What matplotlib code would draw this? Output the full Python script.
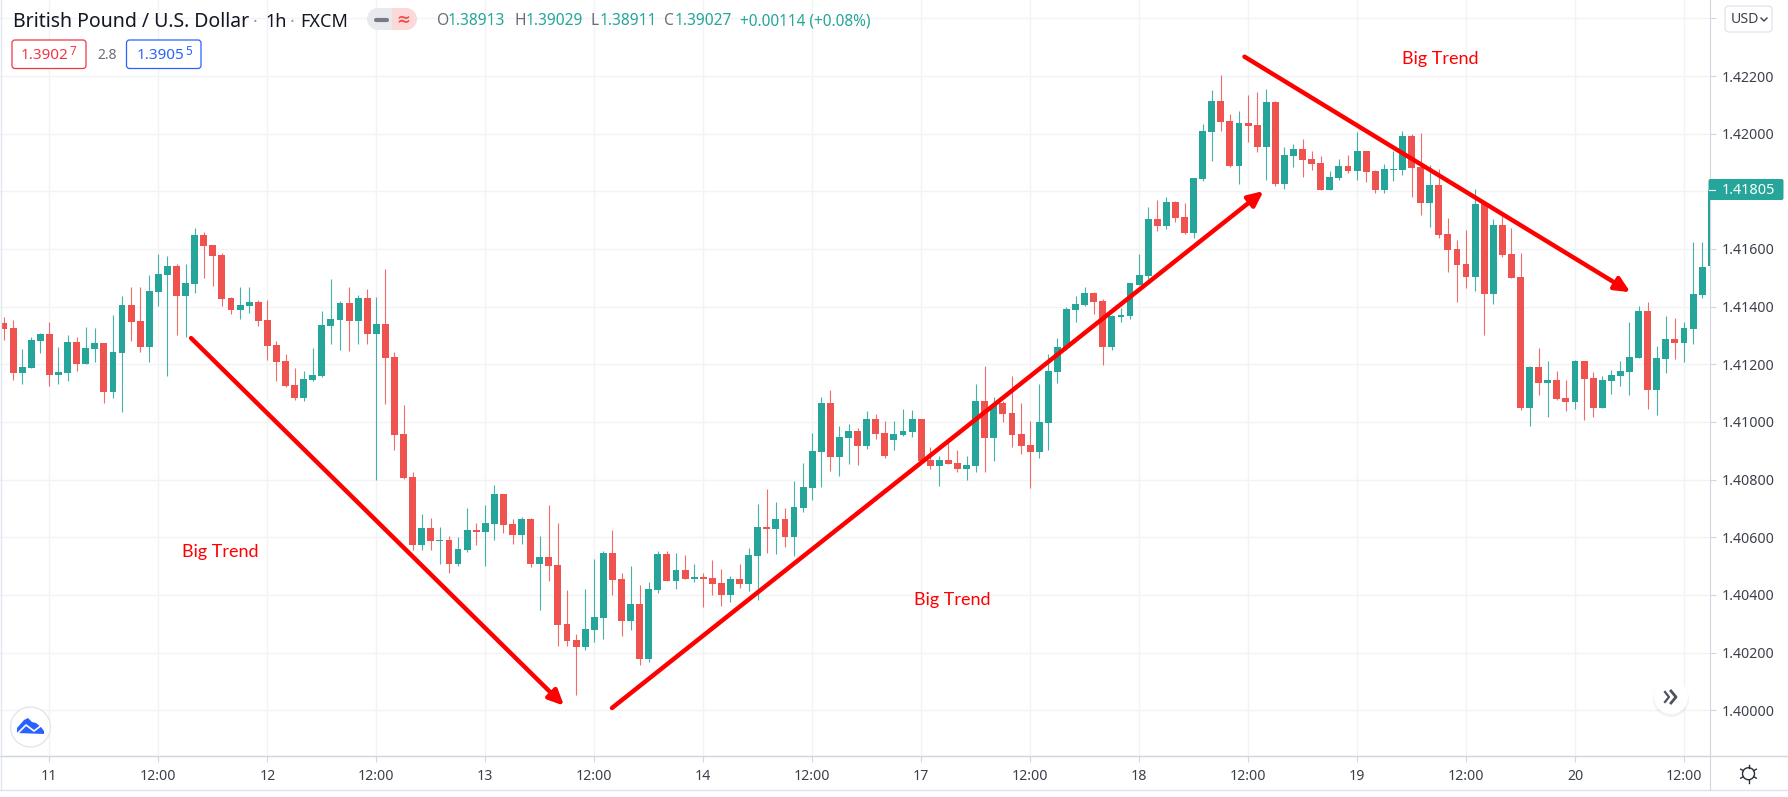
import numpy as np
import matplotlib
matplotlib.use("Agg")
import matplotlib.pyplot as plt
from matplotlib.patches import Circle, FancyArrowPatch, FancyBboxPatch, Polygon, Rectangle, Wedge

# hourly candles, prices in 1e-5 units
opens = [141343, 141326, 141171, 141187, 141281, 141305, 141163, 141171, 141277, 141202, 141254, 141274, 141105, 141240, 141406, 141350,
         141261, 141452, 141510, 141541, 141437, 141479, 141649, 141614, 141579, 141430, 141388, 141402, 141416, 141354, 141267, 141212,
         141128, 141083, 141146, 141160, 141333, 141354, 141413, 141350, 141430, 141305, 141340, 141225, 140958, 140809, 140573, 140632,
         140587, 140591, 140507, 140556, 140625, 140619, 140646, 140750, 140646, 140608, 140664, 140507, 140532, 140504, 140299, 140244,
         140220, 140279, 140320, 140546, 140456, 140310, 140369, 140178, 140417, 140542, 140449, 140487, 140456, 140462, 140459, 140442,
         140400, 140456, 140438, 140535, 140636, 140629, 140664, 140601, 140702, 140771, 140896, 141066, 140879, 140945, 140969, 140917,
         141010, 140962, 140938, 140955, 140965, 141010, 140868, 140847, 140868, 140858, 140837, 140847, 141073, 140945, 141066, 141031,
         140958, 140920, 140896, 140997, 141173, 141257, 141388, 141406, 141447, 141420, 141260, 141364, 141368, 141475, 141506, 141704,
         141680, 141763, 141711, 141656, 141843, 142006, 142113, 142044, 141888, 142037, 142030, 141954, 142110, 141825, 141923, 141947,
         141912, 141898, 141805, 141846, 141888, 141871, 141940, 141871, 141805, 141874, 141874, 141992, 141884, 141760, 141822, 141652,
         141600, 141548, 141503, 141756, 141444, 141683, 141583, 141503, 141049, 141191, 141135, 141146, 141083, 141069, 141212, 141153,
         141049, 141142, 141160, 141173, 141222, 141385, 141111, 141219, 141288, 141274, 141322, 141440, 141540]
highs = [141364, 141354, 141253, 141294, 141310, 141347, 141260, 141302, 141295, 141330, 141326, 141274, 141371, 141437, 141468, 141468,
         141509, 141583, 141576, 141548, 141548, 141673, 141659, 141614, 141586, 141435, 141468, 141468, 141423, 141423, 141281, 141236,
         141187, 141177, 141257, 141385, 141496, 141420, 141468, 141440, 141461, 141434, 141531, 141243, 141059, 140827, 140681, 140667,
         140636, 140605, 140601, 140702, 140650, 140712, 140781, 140750, 140664, 140671, 140667, 140605, 140712, 140650, 140417, 140265,
         140421, 140525, 140553, 140625, 140476, 140501, 140435, 140445, 140553, 140553, 140546, 140539, 140507, 140476, 140521, 140490,
         140466, 140507, 140563, 140716, 140768, 140723, 140702, 140795, 140858, 140962, 141087, 141111, 140986, 140993, 140979, 141038,
         141028, 141003, 141003, 141045, 141042, 141010, 140913, 140882, 140934, 140903, 140882, 141132, 141194, 141087, 141073, 141160,
         141066, 141003, 141132, 141236, 141291, 141398, 141437, 141468, 141451, 141427, 141371, 141395, 141482, 141583, 141746, 141770,
         141780, 141767, 141760, 141846, 142034, 142152, 142203, 142068, 142079, 142134, 142144, 142155, 142113, 141954, 141964, 141982,
         141940, 141923, 141871, 141912, 141926, 142006, 141940, 141874, 141895, 141940, 142009, 141999, 142002, 141891, 141878, 141708,
         141631, 141666, 141808, 141760, 141704, 141714, 141673, 141586, 141194, 141257, 141212, 141177, 141146, 141215, 141212, 141173,
         141160, 141180, 141212, 141347, 141402, 141416, 141264, 141368, 141361, 141347, 141624, 141624, 141805]
lows = [141284, 141146, 141133, 141186, 141238, 141126, 141133, 141143, 141177, 141201, 141208, 141067, 141084, 141036, 141281, 141243,
        141208, 141402, 141160, 141302, 141295, 141447, 141499, 141472, 141402, 141375, 141357, 141378, 141333, 141215, 141142, 141123,
        141076, 141074, 141142, 141156, 141271, 141250, 141246, 141271, 141271, 140799, 141062, 140903, 140803, 140556, 140556, 140556,
        140507, 140476, 140501, 140549, 140573, 140501, 140591, 140615, 140577, 140577, 140497, 140348, 140449, 140223, 140223, 140053,
        140209, 140237, 140247, 140400, 140258, 140279, 140157, 140168, 140407, 140449, 140421, 140456, 140445, 140358, 140400, 140362,
        140376, 140424, 140414, 140383, 140546, 140542, 140566, 140535, 140688, 140729, 140775, 140830, 140813, 140854, 140851, 140906,
        140941, 140875, 140903, 140951, 140948, 140861, 140837, 140778, 140854, 140827, 140799, 140827, 140827, 140865, 141000, 140913,
        140889, 140771, 140875, 140903, 141135, 141250, 141347, 141402, 141375, 141198, 141250, 141347, 141357, 141475, 141496, 141662,
        141669, 141694, 141652, 141638, 141836, 141905, 142009, 141884, 141825, 141971, 141936, 141839, 141819, 141808, 141884, 141850,
        141874, 141805, 141805, 141839, 141864, 141839, 141832, 141794, 141794, 141836, 141857, 141780, 141718, 141676, 141638, 141520,
        141416, 141465, 141454, 141302, 141409, 141572, 141499, 141042, 140986, 141094, 141017, 141076, 141038, 141045, 141007, 141017,
        141049, 141097, 141125, 141094, 141222, 141045, 141024, 141170, 141219, 141208, 141271, 141430, 141534]
closes = [141324, 141171, 141191, 141284, 141305, 141163, 141173, 141277, 141202, 141257, 141274, 141105, 141243, 141406, 141348, 141261,
          141454, 141513, 141541, 141437, 141482, 141649, 141610, 141576, 141427, 141388, 141406, 141416, 141350, 141264, 141208, 141125,
          141083, 141149, 141163, 141336, 141357, 141413, 141350, 141430, 141305, 141340, 141222, 140955, 140806, 140573, 140632, 140587,
          140591, 140507, 140560, 140625, 140619, 140650, 140750, 140643, 140608, 140664, 140507, 140532, 140501, 140296, 140240, 140220,
          140282, 140324, 140546, 140452, 140310, 140369, 140178, 140421, 140542, 140449, 140487, 140456, 140462, 140456, 140438, 140400,
          140456, 140438, 140539, 140636, 140629, 140664, 140601, 140705, 140775, 140899, 141066, 140879, 140948, 140969, 140917, 141010,
          140958, 140882, 140958, 140969, 141010, 140865, 140847, 140868, 140854, 140837, 140851, 141073, 140945, 141059, 141028, 140955,
          140917, 140896, 141000, 141177, 141260, 141392, 141409, 141447, 141416, 141260, 141368, 141371, 141482, 141510, 141704, 141680,
          141763, 141708, 141656, 141846, 142009, 142113, 142041, 141888, 142037, 142027, 141954, 142110, 141825, 141926, 141947, 141909,
          141895, 141805, 141850, 141888, 141871, 141940, 141867, 141805, 141878, 141878, 141992, 141881, 141760, 141822, 141649, 141597,
          141545, 141503, 141756, 141444, 141683, 141579, 141499, 141049, 141191, 141135, 141146, 141080, 141069, 141212, 141149, 141049,
          141146, 141163, 141177, 141225, 141385, 141111, 141222, 141288, 141274, 141326, 141444, 141538, 141805]

first_index = -5
x_tick_pos = list(range(0, 181, 12))
x_tick_labels = ["11", "12:00", "12", "12:00", "13", "12:00", "14", "12:00", "17", "12:00",
                 "18", "12:00", "19", "12:00", "20", "12:00"]
y_ticks = [1.40000, 1.40200, 1.40400, 1.40600, 1.40800, 1.41000, 1.41200, 1.41400, 1.41600, 1.41800, 1.42000, 1.42200, 1.42400]
y_tick_labels = ["1.40000", "1.40200", "1.40400", "1.40600", "1.40800", "1.41000", "1.41200", "1.41400", "1.41600", "", "1.42000", "1.42200", ""]

# trend arrows: (candle index, price) start and tip
arrow_starts = [(15.6, 1.41291), (61.95, 1.40008), (131.6, 1.42267)]
arrow_tips = [(56.67, 1.40016), (133.7, 1.41801), (174.1, 1.41450)]

UP = "#26a69a"
DOWN = "#ef5350"
GRID = "#f2f3f5"
AXIS = "#d3d6df"
TEXT = "#131722"
W, H = 1788, 797
FONT = "Noto Sans"

plt.rcParams["font.family"] = [FONT, "DejaVu Sans"]

o = np.array(opens) / 1e5
h = np.array(highs) / 1e5
l = np.array(lows) / 1e5
c = np.array(closes) / 1e5
idx = np.arange(first_index, first_index + len(o))
colors = [UP if cl >= op else DOWN for op, cl in zip(o, c)]

fig = plt.figure(figsize=(W / 100, H / 100), dpi=100, facecolor="white")

# main price pane, right axis line at x=1709.5, bottom at y=756
ax = fig.add_axes([0, 1 - 756 / H, 1709.5 / W, 756 / H])
ax.set_xlim((0 - 49.4) / 9.081, (1709.5 - 49.4) / 9.081)
ax.set_ylim(1.422 - (756 - 76) / 28832, 1.422 + 76 / 28832)

ax.vlines(idx, l, h, colors=colors, linewidth=0.8, alpha=0.85, zorder=2)
ax.bar(idx, np.maximum(np.abs(c - o), 0.00002), bottom=np.minimum(o, c), width=0.76, color=colors, linewidth=0, zorder=3)

for start, tip in zip(arrow_starts, arrow_tips):
    ax.add_patch(FancyArrowPatch(start, tip, arrowstyle="-|>,head_length=0.9,head_width=0.42", mutation_scale=10,
                                 color="#ff0000", linewidth=3.2, shrinkA=0, shrinkB=0, zorder=5))

ax.set_xticks(x_tick_pos)
ax.set_xticklabels(x_tick_labels)
ax.set_yticks(y_ticks)
ax.set_yticklabels(y_tick_labels)
ax.yaxis.tick_right()
ax.grid(True, color=GRID, linewidth=1, zorder=0)
ax.set_axisbelow(True)
ax.tick_params(axis="x", length=4, width=0.8, color=AXIS, labelsize=10.2, labelcolor="#3c404b", pad=5)
ax.tick_params(axis="y", length=4, width=0.8, color=AXIS, labelsize=10.2, labelcolor="#3c404b", pad=5)
ax.xaxis.get_major_ticks()[8].label1.set_fontweight("bold")
for name in ["top", "left"]:
    ax.spines[name].set_visible(False)
ax.spines["right"].set_color(AXIS)
ax.spines["bottom"].set_color(AXIS)

# overlay in pixels for the toolbar pieces
ov = fig.add_axes([0, 0, 1, 1], facecolor="none")
ov.set_xlim(0, W)
ov.set_ylim(H, 0)
ov.axis("off")

ov.plot([0, W], [790, 790], color="#dfe2ea", lw=1)
ov.plot([0, W], [756, 756], color=AXIS, lw=1)
ov.plot([1709.5, 1709.5], [756, 790], color=AXIS, lw=0.8)
ov.plot([1, 1], [0, 790], color="#dfe6f0", lw=1)

ov.text(13, 22, "British Pound / U.S. Dollar", fontsize=14, color=TEXT, va="center")
ov.text(255.5, 22, "·", fontsize=13, color="#9598a1", va="center", ha="center")
ov.text(265, 22, "1h", fontsize=13, color=TEXT, va="center")
ov.text(292, 22, "·", fontsize=13, color="#9598a1", va="center", ha="center")
ov.text(300, 22, "FXCM", fontsize=13, color=TEXT, va="center")

# pill with the two status icons
ov.add_patch(Wedge((378, 19), 11, 90, 270, facecolor="#e9eaed", lw=0))
ov.add_patch(Rectangle((378, 8), 14, 22, facecolor="#e9eaed", lw=0))
ov.add_patch(Wedge((406, 19), 11, 270, 90, facecolor="#fcd9d9", lw=0))
ov.add_patch(Rectangle((392, 8), 14, 22, facecolor="#fcd9d9", lw=0))
ov.plot([376, 387], [19.5, 19.5], color="#787b86", lw=3, solid_capstyle="round")
ov.text(403, 20, "≈", fontsize=12, color="#ef5350", ha="center", va="center", family="DejaVu Sans", fontweight="bold")

# OHLC readout
for lab, val, lx, vx in [("O", "1.38913", 437, 448), ("H", "1.39029", 514, 526), ("L", "1.38911", 590, 600), ("C", "1.39027", 664, 675)]:
    ov.text(lx, 21, lab, fontsize=11.2, color="#6a6d78", va="center")
    ov.text(vx, 21, val, fontsize=11.2, color=UP, va="center")
ov.text(740, 21, "+0.00114 (+0.08%)", fontsize=11.1, color=UP, va="center")

# bid / ask boxes
ov.add_patch(FancyBboxPatch((12, 40), 74, 28.5, boxstyle="round,pad=0,rounding_size=3", fc="white", ec="#f23645", lw=0.9))
ov.text(21, 55, "1.3902", fontsize=11, color="#f23645", va="center")
ov.text(70, 51.5, "7", fontsize=8.5, color="#f23645", va="center")
ov.text(97, 55, "2.8", fontsize=10, color="#6a6d78", va="center")
ov.add_patch(FancyBboxPatch((126.5, 40), 74.5, 28.5, boxstyle="round,pad=0,rounding_size=3", fc="white", ec="#2962ff", lw=0.9))
ov.text(137, 55, "1.3905", fontsize=11, color="#2962ff", va="center")
ov.text(185.5, 51.5, "5", fontsize=8.5, color="#2962ff", va="center")

# annotations
for tx, ty, s in [(220, 552, "Big Trend"), (952, 600, "Big Trend"), (1440, 59, "Big Trend")]:
    ov.text(tx, ty, s, fontsize=13, color="#ff0000", ha="center", va="center", family="Lato")

# last price tag
ov.add_patch(FancyBboxPatch((1708.5, 179), 75, 21, boxstyle="round,pad=0,rounding_size=2", fc=UP, ec="none"))
ov.plot([1709, 1715], [189.5, 189.5], color="white", lw=0.8)
ov.text(1722, 190, "1.41805", fontsize=10.4, color="white", va="center", fontweight="bold")

# currency button
ov.add_patch(FancyBboxPatch((1725, 6), 47, 26, boxstyle="round,pad=0,rounding_size=4", fc="white", ec="#e0e3eb", lw=0.9))
ov.text(1731, 19.5, "USD", fontsize=10.2, color="#3c404b", va="center")
ov.plot([1761, 1764, 1767], [18, 21, 18], color="#3c404b", lw=1)

# scroll button
ov.add_patch(Circle((1671, 699), 18, fc="#000000", alpha=0.05, lw=0))
ov.add_patch(Circle((1671, 697), 17, fc="white", lw=0))
ov.plot([1665, 1669, 1665], [692, 697, 702], color="#50535e", lw=1.6)
ov.plot([1671, 1676, 1671], [691, 697, 703], color="#50535e", lw=2)

# settings gear
ov.add_patch(Circle((1748.5, 773.7), 6, fc="white", ec="#2a2e39", lw=1))
for ang in np.arange(0, 360, 60):
    a = np.deg2rad(ang + 30)
    ov.plot([1748.5 + 6 * np.cos(a), 1748.5 + 9 * np.cos(a)], [773.7 + 6 * np.sin(a), 773.7 + 9 * np.sin(a)], color="#2a2e39", lw=1)

# logo
ov.add_patch(Circle((30.5, 727), 20, fc="white", ec="#e4e6ea", lw=1))
ov.add_patch(Polygon([(17, 733), (17, 728), (24, 720), (28, 718), (32, 722), (36, 723), (41, 727), (44, 731), (44, 734)],
                     closed=True, fc="#2962ff", lw=0))
ov.plot([18, 26, 34, 42], [733, 725, 731, 725], color="white", lw=1.2)

fig.savefig("out.png", dpi=100)
